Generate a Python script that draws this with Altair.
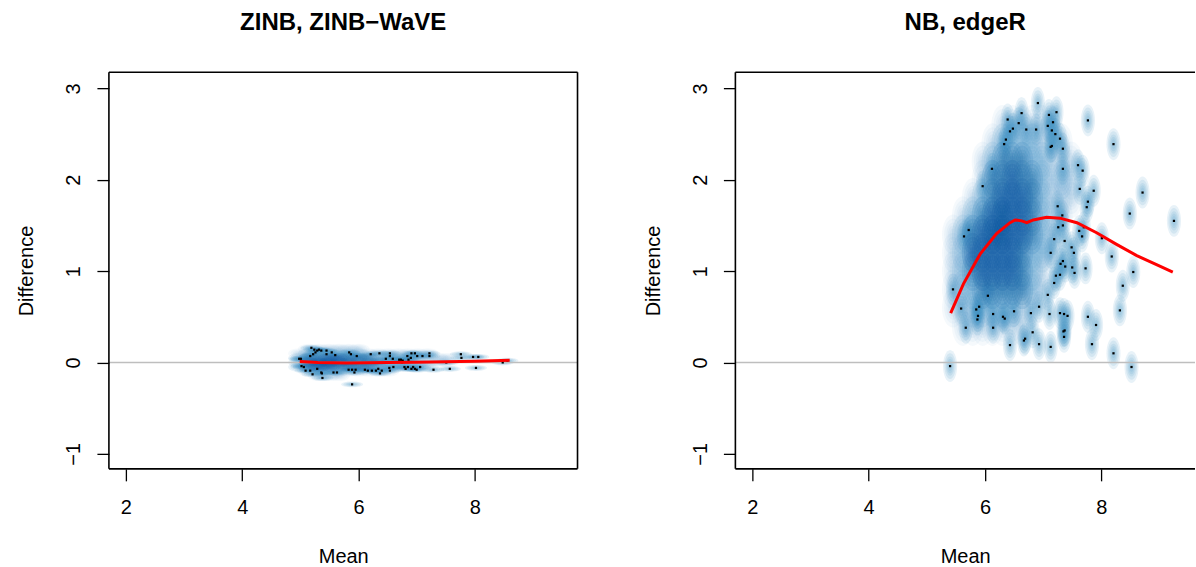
import math
import altair as alt
import pandas as pd

# ---------------- data ----------------
titles = ["ZINB, ZINB\u2212WaVE", "NB, edgeR"]
x_ticks = [2, 4, 6, 8]
y_ticks = [-1, 0, 1, 2, 3]

# low-density points (black dots) - left panel
zinb_dot_x = [5.19, 5.24, 5.26, 5.29, 5.32, 5.36, 5.45, 5.17, 5.22, 5.54, 5.60, 5.45,
              5.87, 5.84, 5.97, 6.21, 6.36, 6.54, 6.54, 6.59, 6.47, 6.84, 6.91, 6.97,
              7.01, 7.10, 7.22, 7.22, 6.90, 6.86, 6.70, 6.76, 7.76, 7.77, 7.97, 8.06,
              4.98, 5.01, 5.02, 5.06, 5.09, 5.17, 5.21, 5.29, 5.36, 5.37, 5.38, 5.57,
              5.63, 5.83, 5.89, 5.95, 5.93, 6.11, 6.16, 6.23, 6.30, 6.34, 6.40, 6.37,
              6.53, 6.54, 6.60, 6.79, 6.85, 6.94, 6.97, 7.06, 6.81, 6.91, 7.00, 7.29,
              7.57, 8.02, 8.48, 8.56, 5.89, 6.73, 6.75, 7.51]
zinb_dot_y = [0.16, 0.14, 0.11, 0.13, 0.14, 0.13, 0.13, 0.07, 0.09, 0.11, 0.08, 0.09,
              0.09, 0.11, 0.07, 0.09, 0.10, 0.10, 0.07, 0.04, 0.04, 0.07, 0.10, 0.10,
              0.07, 0.07, 0.10, 0.07, 0.05, 0.03, 0.03, 0.02, 0.09, 0.05, 0.06, 0.06,
              0.04, 0.04, -0.04, -0.05, -0.09, -0.09, -0.13, -0.07, -0.11, -0.12, -0.17, -0.11,
              -0.11, -0.08, -0.08, -0.08, -0.11, -0.08, -0.09, -0.09, -0.09, -0.07, -0.09, -0.12,
              -0.06, -0.09, -0.05, -0.05, -0.05, -0.05, -0.07, -0.05, -0.07, -0.07, -0.08, -0.08,
              -0.07, -0.06, 0.00, 0.02, -0.24, 0.03, 0.00, 0.00]
# loess fit - left panel
zinb_fit_x = [4.99, 5.3, 5.8, 6.5, 7.0, 7.5, 8.0, 8.6]
zinb_fit_y = [0.010, 0.000, -0.005, 0.000, 0.003, 0.008, 0.013, 0.025]
# smoothed density (relative darkness 0-5) - left panel
zinb_grid_x = [4.98, 5.15, 5.32, 5.49, 5.66, 5.83, 6.00, 6.17, 6.34, 6.51, 6.68, 6.85,
               7.02, 7.19, 7.36, 7.53]
zinb_grid_y = [0.15, 0.10, 0.05, 0.00, -0.05, -0.10, -0.15]
zinb_grid_w = [
    [0, 1, 1, 1, 1, 1, 1, 0, 0, 0, 0, 0, 0, 0, 0, 0],
    [1, 2, 2, 2, 2, 2, 2, 1, 1, 1, 1, 1, 1, 1, 0, 0],
    [2, 3, 3, 4, 4, 3, 3, 3, 2, 2, 2, 2, 1, 1, 1, 1],
    [2, 4, 5, 5, 4, 4, 3, 3, 3, 2, 2, 2, 2, 1, 1, 1],
    [2, 3, 4, 4, 3, 3, 3, 3, 2, 2, 2, 1, 1, 1, 0, 0],
    [0, 1, 2, 2, 2, 1, 1, 1, 1, 1, 0, 0, 0, 0, 0, 0],
    [0, 0, 1, 1, 1, 0, 0, 0, 0, 0, 0, 0, 0, 0, 0, 0],
]

# low-density points (black dots) - right panel
nb_dot_x = [6.91, 6.39, 6.63, 7.10, 7.23, 6.58, 6.48, 6.43, 6.71, 6.88, 7.08, 7.17,
            7.15, 7.21, 7.29, 6.36, 6.33, 7.15, 7.13, 7.34, 7.77, 8.21, 6.12, 7.34,
            7.60, 7.68, 5.96, 7.63, 7.87, 8.71, 7.77, 7.75, 7.25, 8.49, 9.25, 7.33,
            7.26, 7.34, 7.70, 7.62, 7.67, 5.72, 5.64, 7.19, 7.37, 8.01, 7.49, 7.53,
            7.13, 8.18, 7.34, 7.30, 7.38, 7.50, 7.73, 7.54, 7.29, 7.22, 8.55, 7.19,
            8.37, 5.45, 7.08, 6.05, 6.93, 5.59, 5.90, 5.85, 6.50, 6.79, 6.14, 5.88,
            5.87, 6.31, 6.34, 7.11, 7.29, 7.36, 7.42, 7.77, 8.32, 5.67, 6.14, 7.91,
            7.37, 7.35, 6.82, 6.69, 6.67, 7.36, 6.43, 6.93, 7.13, 7.84, 8.21, 5.40,
            8.52]
nb_dot_y = [2.84, 2.66, 2.73, 2.71, 2.74, 2.62, 2.56, 2.53, 2.55, 2.55, 2.59, 2.63,
            2.54, 2.50, 2.45, 2.44, 2.39, 2.37, 2.36, 2.34, 2.65, 2.39, 2.12, 2.12,
            2.16, 2.10, 1.93, 1.90, 1.88, 1.86, 1.76, 1.70, 1.71, 1.63, 1.55, 1.61,
            1.48, 1.50, 1.48, 1.44, 1.38, 1.45, 1.38, 1.35, 1.33, 1.36, 1.26, 1.20,
            1.20, 1.16, 1.11, 1.08, 1.05, 1.04, 1.03, 0.98, 0.96, 0.95, 0.99, 0.87,
            0.84, 0.80, 0.74, 0.73, 0.61, 0.59, 0.61, 0.58, 0.56, 0.54, 0.53, 0.51,
            0.47, 0.50, 0.48, 0.53, 0.54, 0.53, 0.51, 0.50, 0.57, 0.38, 0.38, 0.41,
            0.35, 0.34, 0.33, 0.26, 0.24, 0.28, 0.19, 0.20, 0.17, 0.20, 0.10, -0.04,
            -0.05]
# loess fit - right panel
nb_fit_x = [5.41, 5.63, 5.92, 6.20, 6.43, 6.52, 6.63, 6.72, 6.83, 7.06, 7.29, 7.58,
            7.92, 8.27, 8.61, 8.95, 9.23]
nb_fit_y = [0.54, 0.86, 1.19, 1.41, 1.53, 1.56, 1.55, 1.53, 1.56, 1.59, 1.58, 1.53,
            1.42, 1.29, 1.17, 1.07, 0.99]
# smoothed density (relative darkness 0-5) - right panel
nb_grid_x = [5.45, 5.62, 5.79, 5.96, 6.13, 6.30, 6.47, 6.64, 6.81, 6.98, 7.15, 7.32, 7.49]
nb_grid_y = [2.6, 2.4, 2.2, 2.0, 1.8, 1.6, 1.4, 1.2, 1.0, 0.8, 0.6, 0.4]
nb_grid_w = [
    [0, 0, 0, 0, 0, 1, 1, 1, 1, 1, 1, 0, 0],
    [0, 0, 0, 0, 1, 2, 2, 2, 2, 1, 1, 1, 0],
    [0, 0, 0, 1, 2, 3, 3, 3, 2, 2, 1, 1, 1],
    [0, 0, 0, 1, 3, 3, 4, 3, 3, 2, 1, 2, 1],
    [0, 0, 1, 2, 3, 4, 4, 4, 3, 2, 1, 1, 1],
    [0, 1, 2, 3, 4, 5, 4, 4, 3, 2, 1, 1, 0],
    [1, 2, 3, 4, 5, 5, 4, 4, 3, 2, 1, 0, 0],
    [1, 2, 4, 4, 4, 4, 4, 3, 2, 2, 1, 0, 0],
    [1, 2, 3, 4, 4, 4, 4, 3, 2, 1, 0, 0, 0],
    [1, 2, 2, 3, 3, 3, 3, 3, 2, 1, 0, 0, 0],
    [1, 1, 2, 2, 2, 2, 2, 1, 1, 0, 0, 0, 0],
    [0, 1, 1, 1, 1, 1, 1, 1, 0, 0, 0, 0, 0],
]

# ---------------- styling ----------------
FONT = "Liberation Sans"
LIGHT = "#4292C6"
DARK = "#08519C"
XMIN = 1.708
YMIN, YMAX = -1.165, 3.178
HEIGHT = 397
LIGHT_ALPHA = {1: 0.05, 2: 0.11, 3: 0.17, 4: 0.2, 5: 0.2}
DARK_ALPHA = {1: 0.0, 2: 0.0, 3: 0.05, 4: 0.10, 5: 0.16}
SCALES = [1.0, 0.8, 0.6, 0.45, 0.3]


def ellipse_path(ax, ay, n=32):
    pts = []
    for k in range(n):
        t = 2 * math.pi * k / n
        pts.append(f"{ax * math.cos(t):.3f},{ay * math.sin(t):.3f}")
    return "M" + "L".join(pts) + "Z"


def panel(title, dot_x, dot_y, fit_x, fit_y, gx, gy, gw, width, xmax,
          cloud_shape, cloud_size, halo_shape, halo_size, right_border):
    xs = alt.Scale(domain=[XMIN, xmax], nice=False, zero=False)
    ys = alt.Scale(domain=[YMIN, YMAX], nice=False, zero=False)
    xax = alt.Axis(values=x_ticks, title="Mean", domain=False, grid=False,
                   ticks=True, tickSize=12, tickColor="black", tickWidth=1.3,
                   labelFont=FONT, labelFontSize=20, labelColor="black",
                   labelBaseline="alphabetic", labelPadding=33,
                   titleFont=FONT, titleFontSize=20, titleFontWeight="normal",
                   titleColor="black", titleBaseline="alphabetic", titleY=94)
    yax = alt.Axis(values=y_ticks, title="Difference", domain=False, grid=False,
                   ticks=True, tickSize=12, tickColor="black", tickWidth=1.3,
                   labelFont=FONT, labelFontSize=20, labelColor="black",
                   labelAngle=270, labelAlign="center", labelBaseline="alphabetic",
                   labelPadding=17,
                   titleFont=FONT, titleFontSize=20, titleFontWeight="normal",
                   titleColor="black", titleAngle=270, titleAlign="center",
                   titleBaseline="alphabetic", titleX=-76, titleY=HEIGHT / 2)
    X = alt.X("x:Q", scale=xs, axis=xax)
    Y = alt.Y("y:Q", scale=ys, axis=yax)

    cloud = pd.DataFrame([
        {"x": gx[j], "y": gy[i], "w": gw[i][j]}
        for i in range(len(gy)) for j in range(len(gx)) if gw[i][j] > 0
    ])
    cloud["op_light"] = cloud["w"].map(LIGHT_ALPHA)
    cloud["op_dark"] = cloud["w"].map(DARK_ALPHA)
    cloud_dark = cloud[cloud["op_dark"] > 0]
    dots = pd.DataFrame({"x": dot_x, "y": dot_y})
    fit = pd.DataFrame({"x": fit_x, "y": fit_y})

    layers = []
    for s in SCALES:
        layers.append(
            alt.Chart(cloud).mark_point(shape=cloud_shape, filled=True,
                                        size=cloud_size * s * s, color=LIGHT,
                                        strokeWidth=0)
            .encode(x=X, y=Y, opacity=alt.Opacity("op_light:Q", scale=None))
        )
    for s in SCALES:
        layers.append(
            alt.Chart(dots).mark_point(shape=halo_shape, filled=True,
                                       size=halo_size * s * s, color=LIGHT,
                                       strokeWidth=0, opacity=0.12)
            .encode(x=X, y=Y)
        )
    for s in SCALES:
        layers.append(
            alt.Chart(cloud_dark).mark_point(shape=cloud_shape, filled=True,
                                             size=cloud_size * s * s, color=DARK,
                                             strokeWidth=0)
            .encode(x=X, y=Y, opacity=alt.Opacity("op_dark:Q", scale=None))
        )
    zero = pd.DataFrame({"y": [0.0]})
    layers.append(
        alt.Chart(zero).mark_rule(color="#BEBEBE", strokeWidth=1.5)
        .encode(y=Y, x=alt.value(0), x2=alt.value(width))
    )
    layers.append(
        alt.Chart(dots).mark_square(size=5, color="black", opacity=1)
        .encode(x=X, y=Y)
    )
    layers.append(
        alt.Chart(fit).mark_line(color="#FF0000", strokeWidth=3)
        .encode(x=X, y=Y, order=alt.Order("x:Q"))
    )
    one = pd.DataFrame({"k": [0]})
    border = alt.Chart(one).mark_rule(color="black", strokeWidth=1.6)
    layers.append(border.encode(x=alt.value(0), x2=alt.value(width), y=alt.value(0)))
    layers.append(border.encode(x=alt.value(0), x2=alt.value(width), y=alt.value(HEIGHT)))
    layers.append(border.encode(x=alt.value(0), y=alt.value(0), y2=alt.value(HEIGHT)))
    if right_border:
        layers.append(border.encode(x=alt.value(width), y=alt.value(0), y2=alt.value(HEIGHT)))

    return alt.layer(*layers).properties(
        width=width, height=HEIGHT,
        title=alt.TitleParams(title, font=FONT, fontSize=24, fontWeight="bold",
                              color="black", anchor="middle", frame="group",
                              baseline="alphabetic", offset=17),
    )


left = panel(titles[0], zinb_dot_x, zinb_dot_y, zinb_fit_x, zinb_fit_y,
             zinb_grid_x, zinb_grid_y, zinb_grid_w, 469, XMIN + 469 / 58.2,
             ellipse_path(1.0, 0.45), 484, ellipse_path(1.0, 0.27), 484, True)
right = panel(titles[1], nb_dot_x, nb_dot_y, nb_fit_x, nb_fit_y,
              nb_grid_x, nb_grid_y, nb_grid_w, 460, XMIN + 460 / 58.2,
              ellipse_path(0.55, 1.0), 1600, ellipse_path(0.44, 1.0), 1024, False)

chart = alt.hconcat(left, right, spacing=158, bounds="flush").properties(
    padding={"left": 17, "top": 11, "right": 0, "bottom": 0},
    background="white",
).configure_view(strokeWidth=0)

chart.save("out.html", embed_options={"renderer": "svg", "actions": False})
